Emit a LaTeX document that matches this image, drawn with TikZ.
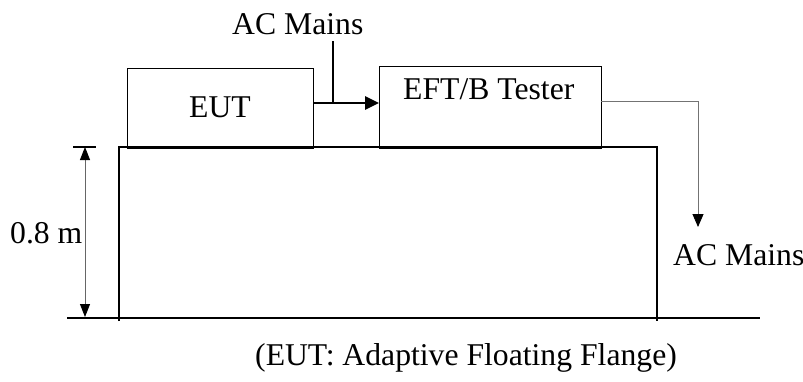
\documentclass[tikz,border=0pt]{standalone}
\usepackage{fontspec}
\setmainfont{Liberation Serif}
\usetikzlibrary{arrows.meta}
\begin{document}
\begin{tikzpicture}[x=1bp,y=-1bp,
  lbl/.style={anchor=base west, inner sep=0pt, font=\fontsize{31.8}{38}\selectfont},
  box/.style={draw, line width=1.4bp, inner sep=0pt, anchor=north west},
  tip/.style={-{Triangle[length=13bp,width=11bp,black]}}]
\useasboundingbox (0,0) rectangle (803,381);
% table and ground
\draw[line width=2.8bp] (67,318) -- (760,318);
\draw[line width=1.6bp] (119,321) |- (657,147) -- (657,321);
% boxes
\node[box, minimum width=186bp, minimum height=80bp] (eut) at (127,68) {};
\node[box, minimum width=222bp, minimum height=82bp] (eft) at (379,66) {};
\node[lbl] (eutl) at (189,117) {EUT};
\node[lbl] (eftl) at (403,99) {EFT/B Tester};
% AC mains in
\node[lbl] (acin) at (232,34) {AC Mains};
\coordinate (feed) at (333,41);
\coordinate (join) at (333,103);
\draw[line width=2bp] (feed) -- (join);
\draw[line width=2.8bp, -{Triangle[length=14bp,width=13bp]}] (eut.east |- join) -- (eft.west |- join);
% AC mains out
\coordinate (out) at (601,101);
\coordinate (bend) at (698,101);
\coordinate (outend) at (698,227);
\draw[line width=0.9bp, draw=black!55, tip] (out) -- (bend) -- (outend);
\node[lbl] (acout) at (673,265) {AC Mains};
% dimension
\coordinate (dtop) at (85,147);
\coordinate (dbot) at (85,317);
\draw[line width=2bp] (73,147) -- (96,147);
\draw[line width=0.9bp, draw=black!60, {Triangle[length=13bp,width=10bp,black]}-{Triangle[length=13bp,width=10bp,black]}] (dtop) -- (dbot);
\node[lbl] (dim) at (10,243) {0.8 m};
% caption
\node[lbl] (cap) at (255,365) {(EUT: Adaptive Floating Flange)};
\end{tikzpicture}
\end{document}
